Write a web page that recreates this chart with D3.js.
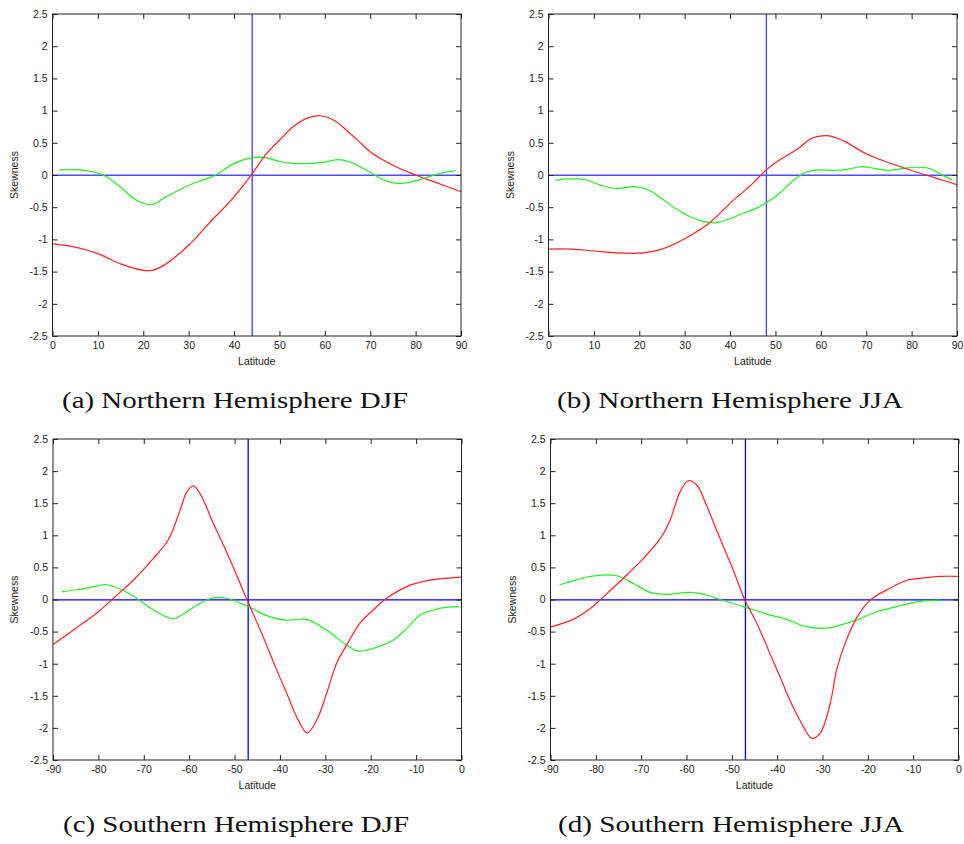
<!DOCTYPE html>
<html>
<head>
<meta charset="utf-8">
<script src="https://cdn.jsdelivr.net/npm/d3@7"></script>
<style>
  body { margin: 0; background: #fff; }
  .tick text { font-family: "Liberation Sans", Arial, sans-serif; font-size: 10.5px; fill: #222; }
</style>
</head>
<body>
<svg id="chart" width="964" height="844"></svg>
<script>
// skewness vs latitude, [latitude, value]
var redA = [[0,-1.07],[5,-1.12],[10,-1.22],[15,-1.38],[20,-1.48],[22,-1.48],[25,-1.38],[30,-1.09],[35,-0.71],[40,-0.34],[44,0.02],[47,0.32],[50,0.54],[53,0.75],[56,0.88],[59,0.92],[62,0.85],[65,0.68],[68,0.49],[70,0.36],[75,0.15],[80,0.0],[85,-0.13],[90,-0.26]]
var greenA = [[1.5,0.08],[6,0.08],[8,0.06],[10,0.03],[12,-0.03],[15,-0.19],[18,-0.37],[20,-0.44],[22,-0.46],[25,-0.34],[30,-0.16],[33,-0.08],[36,0],[40,0.18],[44,0.27],[47,0.27],[50,0.21],[53,0.18],[57,0.18],[60,0.2],[63,0.24],[66,0.19],[68,0.12],[71,0],[73,-0.08],[76,-0.13],[79,-0.11],[82,-0.05],[85,0.02],[89,0.07]]
var redB = [[0,-1.15],[5,-1.15],[10,-1.18],[15,-1.21],[21,-1.21],[25,-1.15],[30,-0.99],[35,-0.77],[40,-0.44],[45,-0.13],[48,0.08],[50,0.19],[55,0.41],[58,0.57],[61.5,0.61],[65,0.53],[70,0.33],[75,0.19],[80,0.07],[85,-0.04],[90,-0.15]]
var greenB = [[1.5,-0.08],[5,-0.06],[8,-0.07],[12,-0.17],[15,-0.21],[19,-0.18],[22,-0.23],[25,-0.37],[28,-0.52],[31,-0.64],[34,-0.72],[37,-0.74],[40,-0.68],[43,-0.59],[46,-0.51],[48,-0.43],[51,-0.28],[54,-0.08],[57,0.05],[60,0.08],[63,0.07],[66,0.09],[69,0.13],[72,0.1],[75,0.07],[78,0.1],[81,0.12],[84,0.1],[87,-0.01],[89,-0.08]]
var redC = [[-90,-0.7],[-85,-0.45],[-80,-0.19],[-76.7,0.02],[-72.3,0.3],[-67.9,0.64],[-64.6,0.93],[-62,1.39],[-60.5,1.68],[-59.1,1.77],[-57.6,1.65],[-54.7,1.19],[-51,0.62],[-47.4,0.02],[-43.7,-0.58],[-40.7,-1.1],[-38.5,-1.46],[-36.3,-1.83],[-34,-2.08],[-31.9,-1.88],[-29.7,-1.46],[-27.5,-0.99],[-25.3,-0.71],[-22.4,-0.37],[-19.4,-0.16],[-16.5,0.02],[-12.1,0.2],[-9.1,0.27],[-5,0.32],[0,0.35]]
var greenC = [[-88,0.12],[-84,0.16],[-81,0.2],[-79,0.23],[-77,0.21],[-74,0.12],[-71.6,0.02],[-67.9,-0.16],[-65,-0.27],[-63.3,-0.3],[-60.5,-0.19],[-56.9,-0.03],[-54.3,0.03],[-51.7,0.02],[-47.3,-0.1],[-42.2,-0.27],[-38.5,-0.32],[-34.1,-0.31],[-29.7,-0.48],[-25.3,-0.71],[-23,-0.8],[-20.9,-0.79],[-15,-0.63],[-12.1,-0.45],[-9.1,-0.24],[-6,-0.16],[-3,-0.12],[-0.5,-0.11]]
var redD = [[-90,-0.43],[-85,-0.31],[-81,-0.13],[-79.1,-0.01],[-74.7,0.28],[-69.5,0.64],[-65.5,0.98],[-63.6,1.24],[-61.4,1.68],[-59.6,1.85],[-57.7,1.78],[-55.5,1.45],[-52.6,0.95],[-49.7,0.46],[-47.3,0.02],[-44.5,-0.37],[-41.6,-0.84],[-39.4,-1.2],[-37.2,-1.57],[-35,-1.88],[-32.4,-2.16],[-30.5,-2.08],[-28.3,-1.62],[-26.9,-1.1],[-25,-0.68],[-22.5,-0.29],[-19.5,-0.01],[-15.8,0.15],[-11.4,0.3],[-8.5,0.33],[-4,0.36],[0,0.36]]
var greenD = [[-88,0.23],[-85,0.29],[-82,0.35],[-79,0.38],[-75.4,0.37],[-71.7,0.25],[-68,0.11],[-64.4,0.08],[-59.2,0.11],[-55.5,0.07],[-52.6,0.0],[-47.4,-0.11],[-41.6,-0.24],[-37.9,-0.31],[-34.2,-0.41],[-29.8,-0.45],[-26.1,-0.4],[-22.5,-0.32],[-18,-0.19],[-13.6,-0.11],[-8.5,-0.03],[-4,-0.01]]

var markerLat = [44, 48, -47, -47]
var captions = ["(a) Northern Hemisphere DJF", "(b) Northern Hemisphere JJA", "(c) Southern Hemisphere DJF", "(d) Southern Hemisphere JJA"]
var xDomains = [[0, 90], [0, 90], [-90, 0], [-90, 0]]
var xTicks = [d3.range(0, 91, 10), d3.range(0, 91, 10), d3.range(-90, 1, 10), d3.range(-90, 1, 10)]
var yTicks = d3.range(-2.5, 2.51, 0.5)

var reds = [redA, redB, redC, redD]
var greens = [greenA, greenB, greenC, greenD]

// plot boxes for the four panels
var boxes = [
  {left: 52.5, right: 461, top: 14, bottom: 336, capX: 235, capY: 408},
  {left: 548.5, right: 957, top: 14, bottom: 336, capX: 730, capY: 408},
  {left: 53, right: 461.5, top: 439, bottom: 760, capX: 236, capY: 832},
  {left: 550.5, right: 958.5, top: 439, bottom: 760, capX: 731, capY: 832}
]

var svg = d3.select("#chart")
var labelFont = "Liberation Sans, Arial, sans-serif"

boxes.forEach(function(b, i) {
  var x = d3.scaleLinear().domain(xDomains[i]).range([b.left, b.right])
  var y = d3.scaleLinear().domain([-2.5, 2.5]).range([b.bottom, b.top])
  var g = svg.append("g")

  var line = d3.line()
    .curve(d3.curveCatmullRom.alpha(0.5))
    .x(function(d) { return x(d[0]) })
    .y(function(d) { return y(d[1]) })

  // zero line + marker latitude
  var blue = i < 2 ? "#4d4dff" : "#0000ff"
  var bw = i < 2 ? 1.4 : 1.3
  g.append("line")
    .attr("x1", b.left).attr("x2", b.right)
    .attr("y1", y(0) + 0.3).attr("y2", y(0) + 0.3)
    .attr("stroke", blue).attr("stroke-width", bw)
  g.append("line")
    .attr("x1", x(markerLat[i])).attr("x2", x(markerLat[i]))
    .attr("y1", b.top).attr("y2", b.bottom)
    .attr("stroke", blue).attr("stroke-width", bw)

  g.append("path").datum(greens[i])
    .attr("d", line).attr("fill", "none")
    .attr("stroke", "#22ee22").attr("stroke-width", 1.2)
  g.append("path").datum(reds[i])
    .attr("d", line).attr("fill", "none")
    .attr("stroke", "#ff2222").attr("stroke-width", 1.2)

  var fmt = function(v) { return String(Math.round(v * 10) / 10) }

  // axes, ticks pointing inward on all four sides
  g.append("g").attr("transform", "translate(0," + b.bottom + ")")
    .call(d3.axisBottom(x).tickValues(xTicks[i]).tickSize(-5).tickPadding(6).tickFormat(fmt))
  g.append("g").attr("transform", "translate(0," + b.top + ")")
    .call(d3.axisTop(x).tickValues(xTicks[i]).tickSize(-5).tickFormat(""))
  g.append("g").attr("transform", "translate(" + b.left + ",0)")
    .call(d3.axisLeft(y).tickValues(yTicks).tickSize(-5).tickPadding(5).tickFormat(fmt))
  g.append("g").attr("transform", "translate(" + b.right + ",0)")
    .call(d3.axisRight(y).tickValues(yTicks).tickSize(-5).tickFormat(""))
  g.selectAll(".domain").remove()
  g.selectAll(".tick line").attr("stroke", "#222")

  g.append("rect")
    .attr("x", b.left).attr("y", b.top)
    .attr("width", b.right - b.left).attr("height", b.bottom - b.top)
    .attr("fill", "none").attr("stroke", "#222").attr("stroke-width", 1)

  g.append("text")
    .attr("x", (b.left + b.right) / 2).attr("y", b.bottom + 29)
    .attr("text-anchor", "middle")
    .style("font-family", labelFont).style("font-size", "10.5px").style("fill", "#222")
    .text("Latitude")
  g.append("text")
    .attr("transform", "translate(" + (b.left - 35) + "," + ((b.top + b.bottom) / 2) + ") rotate(-90)")
    .attr("text-anchor", "middle")
    .style("font-family", labelFont).style("font-size", "10.5px").style("fill", "#222")
    .text("Skewness")

  g.append("text")
    .attr("x", b.capX).attr("y", b.capY)
    .attr("text-anchor", "middle")
    .attr("textLength", 346).attr("lengthAdjust", "spacingAndGlyphs")
    .style("font-family", "'Liberation Serif', 'Times New Roman', serif").style("font-size", "23px").style("fill", "#111")
    .text(captions[i])
})
</script>
</body>
</html>
